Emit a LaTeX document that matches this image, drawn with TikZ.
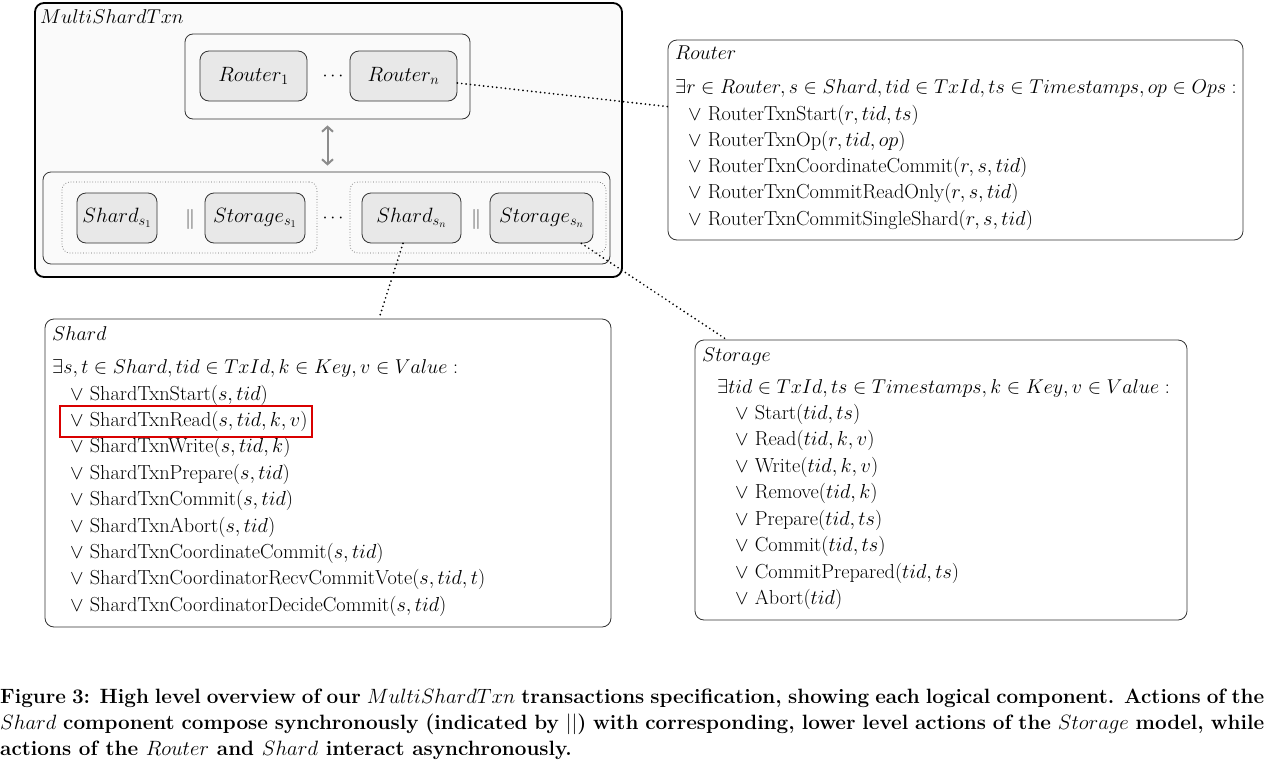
\RequirePackage{fix-cm}
\documentclass[tikz,border=0pt]{standalone}
\usetikzlibrary{arrows.meta,fit,calc}
\begin{document}
\begin{tikzpicture}[x=1pt,y=-1pt,
  outerbox/.style={draw=black, line width=1.8pt, fill=black!2, rounded corners=9pt, inner sep=0pt},
  grp/.style={draw=black!80, line width=0.8pt, fill=black!2, rounded corners=8pt, inner sep=0pt},
  dotbox/.style={draw=black!60, dotted, line width=0.7pt, rounded corners=8pt, inner sep=0pt},
  comp/.style={draw=black!80, line width=0.8pt, fill=black!9, rounded corners=9pt, minimum height=50pt, inner sep=0pt, font=\fontsize{20.7}{24}\selectfont},
  panel/.style={draw=black!80, line width=0.8pt, fill=white, rounded corners=9pt, inner sep=0pt},
  txt/.style={anchor=base west, inner sep=0pt, font=\fontsize{20}{24}\selectfont},
  itm/.style={anchor=base west, inner sep=0pt, font=\fontsize{20.3}{24}\selectfont},
  capline/.style={anchor=base west, inner sep=0pt, font=\fontsize{20.7}{24}\selectfont\bfseries},
  link/.style={line width=1.9pt, dash pattern=on 0pt off 4.4pt, line cap=round},
  dbl/.style={draw=black!45, line width=2pt, {Straight Barb[length=5pt,width=11pt]}-{Straight Barb[length=5pt,width=11pt]}},
  hl/.style={draw=red!85!black, line width=1.8pt, inner xsep=4pt, inner ysep=5pt}
]
\useasboundingbox (0,0) rectangle (1264,763);

% ---------- MultiShardTxn ----------
\node[outerbox, fit={(35,3) (622,277)}] (outer) {};
\node[txt] (mlab) at (40,23) {$MultiShardTxn$};

\node[grp, fit={(185,34) (470,119)}] (rgrp) {};
\node[comp, minimum width=107pt] (r1) at (253.5,76) {$Router_1$};
\node[comp, minimum width=107pt] (rn) at (403.5,76) {$Router_n$};
\node[inner sep=0pt, font=\fontsize{18}{20}\selectfont] (rdots) at (333,76) {$\cdots$};

\node[grp, fit={(43,172) (610,264)}] (sgrp) {};
\node[dotbox, fit={(62,182) (317,253)}] (d1) {};
\node[dotbox, fit={(350,182) (606,253)}] (d2) {};
\node[comp, minimum width=80pt] (sh1) at (117,218) {$Shard_{s_1}$};
\node[comp, minimum width=100pt] (st1) at (255,218) {$Storage_{s_1}$};
\node[comp, minimum width=99pt] (shn) at (411.5,218) {$Shard_{s_n}$};
\node[comp, minimum width=103pt] (stn) at (541.5,218) {$Storage_{s_n}$};
\node[inner sep=0pt, text=black!70, font=\fontsize{20}{22}\selectfont] (par1) at (190,219) {$\|$};
\node[inner sep=0pt, text=black!70, font=\fontsize{20}{22}\selectfont] (parn) at (476,219) {$\|$};
\node[inner sep=0pt, font=\fontsize{18}{20}\selectfont] (sdots) at (333,218) {$\cdots$};

\draw[dbl] ([yshift=-6pt]rgrp.south) -- ([yshift=6pt]rgrp.south |- sgrp.north);

% ---------- Router panel ----------
\node[panel, fit={(668,40) (1243,240)}] (rpanel) {};
\node[txt] (rlab) at (675,59) {$Router$};
\node[txt] (rex) at (675,93) {$\exists r \in Router, s \in Shard, tid \in TxId, ts \in Timestamps, op \in Ops:$};
\foreach \t [count=\i] in {{RouterTxnStart$(r, tid, ts)$},
  {RouterTxnOp$(r, tid, op)$},
  {RouterTxnCoordinateCommit$(r, s, tid)$},
  {RouterTxnCommitReadOnly$(r, s, tid)$},
  {RouterTxnCommitSingleShard$(r, s, tid)$}}
  \node[itm] (rl\i) at (688,{120+26.3*(\i-1)}) {$\vee$ \t};

% ---------- Shard panel ----------
\node[panel, fit={(45,319) (611,627)}] (spanel) {};
\node[txt] (slab) at (52,340) {$Shard$};
\node[txt] (sex) at (52,373) {$\exists s, t \in Shard, tid \in TxId, k \in Key, v \in Value:$};
\foreach \t [count=\i] in {{ShardTxnStart$(s, tid)$},
  {ShardTxnRead$(s, tid, k, v)$},
  {ShardTxnWrite$(s, tid, k)$},
  {ShardTxnPrepare$(s, tid)$},
  {ShardTxnCommit$(s, tid)$},
  {ShardTxnAbort$(s, tid)$},
  {ShardTxnCoordinateCommit$(s, tid)$},
  {ShardTxnCoordinatorRecvCommitVote$(s, tid, t)$},
  {ShardTxnCoordinatorDecideCommit$(s, tid)$}}
  \node[itm] (sl\i) at (70,{400+26.4*(\i-1)}) {$\vee$ \t};
\node[hl, fit={([xshift=-6pt]sl2.west) (sl2)}] (hlbox) {};

% ---------- Storage panel ----------
\node[panel, fit={(695,340) (1187,620)}] (tpanel) {};
\node[txt] (tlab) at (702,361) {$Storage$};
\node[txt] (tex) at (717,393) {$\exists tid \in TxId, ts \in Timestamps, k \in Key, v \in Value:$};
\foreach \t [count=\i] in {{Start$(tid, ts)$},
  {Read$(tid, k, v)$},
  {Write$(tid, k, v)$},
  {Remove$(tid, k)$},
  {Prepare$(tid, ts)$},
  {Commit$(tid, ts)$},
  {CommitPrepared$(tid, ts)$},
  {Abort$(tid)$}}
  \node[itm] (tl\i) at (735,{419+26.5*(\i-1)}) {$\vee$ \t};

% ---------- connectors ----------
\draw[link] ([yshift=-7pt]rn.east) -- ([yshift=-67pt]rpanel.north west);
\draw[link] ([xshift=-8.5pt]shn.south) -- ([xshift=51pt]spanel.north);
\draw[link] ([xshift=-12pt]stn.south east) -- ([xshift=32pt]tpanel.north west);

% ---------- caption ----------
\node[capline] (c1) at (0,703) {\makebox[1264pt][s]{Figure 3: High level overview of our $MultiShardTxn$ transactions specification, showing each logical component. Actions of the}};
\node[capline] (c2) at (0,729) {\makebox[1264pt][s]{$Shard$ component compose synchronously (indicated by $||$) with corresponding, lower level actions of the $Storage$ model, while}};
\node[capline] (c3) at (0,755) {actions of the $Router$ and $Shard$ interact asynchronously.};
\end{tikzpicture}
\end{document}
